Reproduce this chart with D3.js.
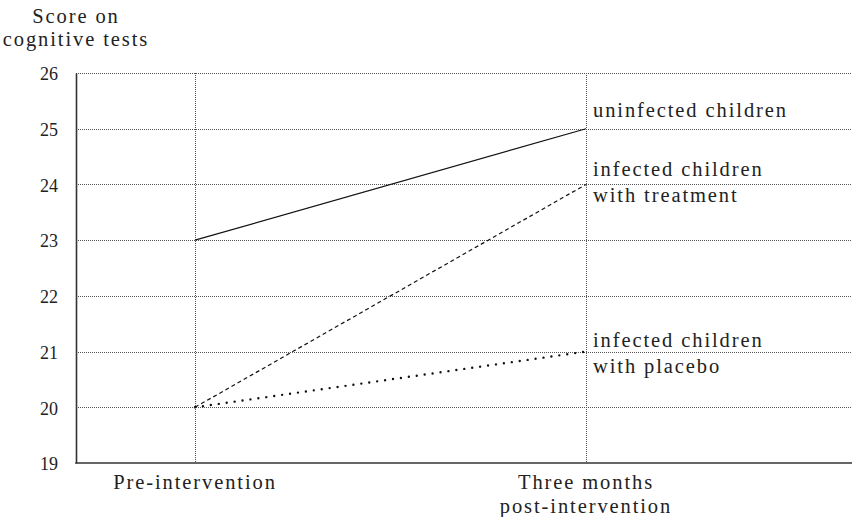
<!DOCTYPE html>
<html><head><meta charset="utf-8">
<script src="https://cdn.jsdelivr.net/npm/d3@7"></script>
<style>body{margin:0;background:#fff;}</style></head>
<body><svg id="c" width="854" height="517" font-family="Liberation Serif"></svg>
<script>
const timepoints = ["pre", "post"];
const timeLabels = [["Pre-intervention"], ["Three months", "post-intervention"]];
const seriesNames = [["uninfected children"], ["infected children", "with treatment"], ["infected children", "with placebo"]];
const uninfected = [23, 25];
const treatment = [20, 24];
const placebo = [20, 21];
const yTicks = [19, 20, 21, 22, 23, 24, 25, 26];
const yTitle = ["Score on", "cognitive tests"];

(function(){
const FONT = "Liberation Serif";
const FS = 20.5, LS = "1.9px", TXT = "#222";
const svg = d3.select("#c");
const pL = 76, pR = 852, pT = 73, pB = 463;
const y = d3.scaleLinear().domain([19, 26]).range([pB, pT]);
const x = d3.scalePoint().domain(timepoints).range([195, 586]);

// horizontal grid
svg.append("g").selectAll("line").data(yTicks.filter(d => d > 19)).join("line")
  .attr("x1", pL).attr("x2", pR).attr("y1", d => Math.round(y(d)) + 0.5).attr("y2", d => Math.round(y(d)) + 0.5)
  .attr("stroke", "#555").attr("stroke-width", 1).attr("stroke-dasharray", "1,1");
// vertical grid
svg.append("g").selectAll("line").data(timepoints).join("line")
  .attr("x1", d => x(d) + 0.5).attr("x2", d => x(d) + 0.5).attr("y1", pT).attr("y2", pB)
  .attr("stroke", "#555").attr("stroke-width", 1).attr("stroke-dasharray", "1,1");

// y axis
const yAxis = d3.axisLeft(y).tickValues(yTicks).tickFormat(d3.format("d")).tickSize(0).tickPadding(18);
const gy = svg.append("g").attr("transform", `translate(${pL},0)`).call(yAxis)
  .attr("font-family", FONT).attr("font-size", 18);
gy.select(".domain").attr("stroke", "#333").attr("stroke-width", 1.6);
gy.selectAll("text").attr("fill", TXT).attr("dy", "0.38em");

// x axis baseline
svg.append("line").attr("x1", pL - 0.8).attr("x2", pR).attr("y1", pB).attr("y2", pB)
  .attr("stroke", "#333").attr("stroke-width", 1.6);

// x labels
timepoints.forEach((t, i) => {
  const tx = svg.append("text").attr("x", x(t)).attr("y", 489).attr("text-anchor", "middle")
    .attr("font-family", FONT).attr("font-size", FS).attr("letter-spacing", LS).attr("fill", TXT);
  timeLabels[i].forEach((l, j) => tx.append("tspan").attr("x", x(t)).attr("dy", j ? 24 : 0).text(l));
});

// y title
const tt = svg.append("text").attr("x", 76).attr("y", 22.5).attr("text-anchor", "middle")
  .attr("font-family", FONT).attr("font-size", FS).attr("letter-spacing", LS).attr("fill", TXT);
yTitle.forEach((l, j) => tt.append("tspan").attr("x", 76).attr("dy", j ? 23 : 0).text(l));

// series
const line = d3.line().x((d, i) => x(timepoints[i])).y(d => y(d));
const series = [
  {v: uninfected, dash: null, w: 1.2, cap: "butt"},
  {v: treatment, dash: "4,3", w: 1.2, cap: "butt"},
  {v: placebo, dash: "0,8", w: 2.4, cap: "round"}
];
series.forEach(s => {
  svg.append("path").datum(s.v).attr("d", line).attr("fill", "none")
    .attr("stroke", "#111").attr("stroke-width", s.w).attr("stroke-linecap", s.cap)
    .attr("stroke-dasharray", s.dash);
});

// series labels
const labelY = [117, 176, 347];
seriesNames.forEach((lines, i) => {
  const t = svg.append("text").attr("x", 593).attr("y", labelY[i])
    .attr("font-family", FONT).attr("font-size", FS).attr("letter-spacing", LS).attr("fill", TXT);
  lines.forEach((l, j) => t.append("tspan").attr("x", 593).attr("dy", j ? 26 : 0).text(l));
});
})();
</script></body></html>
